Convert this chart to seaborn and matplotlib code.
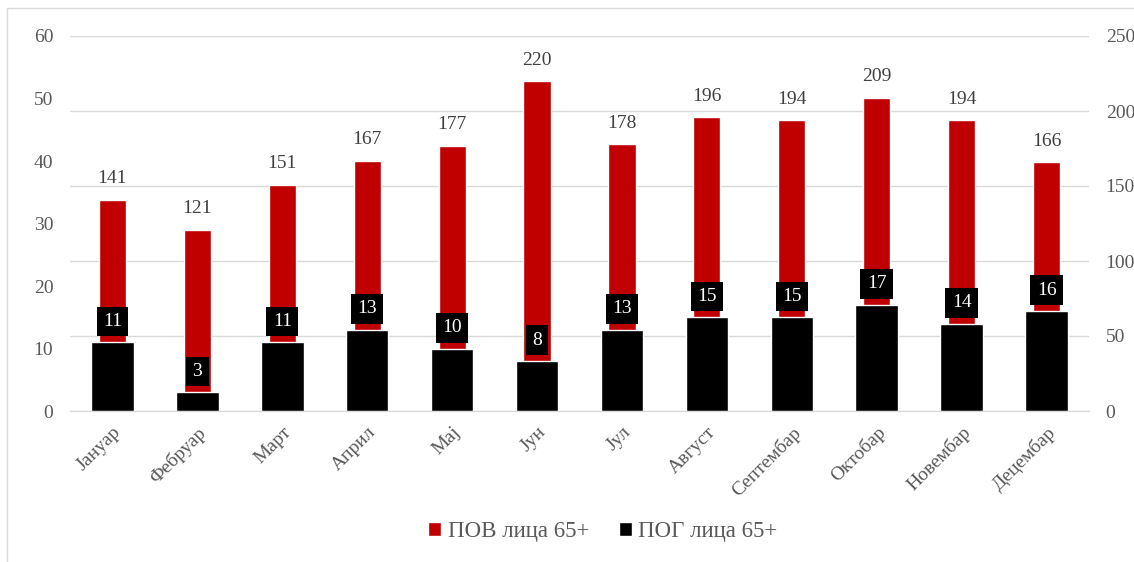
import pandas as pd
import matplotlib.pyplot as plt
import seaborn as sns
from matplotlib.lines import Line2D
from matplotlib.patches import Patch

# Подаци
meseci = ['Јануар', 'Фебруар', 'Март', 'Април', 'Мај', 'Јун',
          'Јул', 'Август', 'Септембар', 'Октобар', 'Новембар', 'Децембар']
pov = [141, 121, 151, 167, 177, 220, 178, 196, 194, 209, 194, 166]
pog = [11, 3, 11, 13, 10, 8, 13, 15, 15, 17, 14, 16]

df = pd.DataFrame({'mesec': meseci, 'pov': pov, 'pog': pog})

sns.set_style('white')
plt.rcParams['font.family'] = ['Liberation Serif', 'DejaVu Serif']

siva = '#595959'
crvena = '#C00000'

fig = plt.figure(figsize=(11.34, 5.62), dpi=100)
ax = fig.add_axes([70/1134, 1 - 411/562, 1019/1134, 375/562])

# ПОВ - десна оса
sns.barplot(data=df, x='mesec', y='pov', color=crvena, width=0.32,
            saturation=1, ax=ax)
ax.set_ylim(0, 250)
ax.set_yticks(range(0, 251, 50))
ax.grid(axis='y', color='#d9d9d9', lw=1)
ax.set_axisbelow(True)

ax2 = ax.twinx()
# ПОГ - лева оса
sns.barplot(data=df, x='mesec', y='pog', color='black', width=0.5,
            saturation=1, ax=ax2)
ax2.set_ylim(0, 60)
ax2.set_yticks(range(0, 61, 10))
ax2.yaxis.tick_left()
ax.yaxis.tick_right()
ax2.grid(False)

for a in (ax, ax2):
    a.set_xlabel('')
    a.set_ylabel('')
    for s in ['top', 'left', 'right']:
        a.spines[s].set_visible(False)
    a.spines['bottom'].set_color('#d9d9d9')
    a.tick_params(axis='y', length=0, pad=12, labelsize=14, labelcolor=siva)

ax.set_xlim(-0.5, 11.5)
ax.set_xticks(range(len(meseci)))
ax.set_xticklabels(meseci, rotation=45, ha='right', va='top',
                   rotation_mode='anchor')
ax.tick_params(axis='x', which='major', length=0, pad=9, labelsize=14,
               labelcolor=siva)
ax.set_xticks([i + 0.5 for i in range(-1, len(meseci))], minor=True)
ax.tick_params(axis='x', which='minor', length=5, color='#d9d9d9', width=1)

# ознаке
for i, v in enumerate(pov):
    ax.annotate(str(v), (i, v), xytext=(0, 15), textcoords='offset points',
                ha='center', va='center', fontsize=14, color='#404040')
for i, v in enumerate(pog):
    ax2.annotate(str(v), (i, v), xytext=(0, 15), textcoords='offset points',
                 ha='center', va='center', fontsize=14, color='white',
                 bbox=dict(boxstyle='square,pad=0.33', fc='black', ec='none'))

handles = [Patch(facecolor=crvena, label='ПОВ лица 65+'),
           Patch(facecolor='black', label='ПОГ лица 65+')]
leg = fig.legend(handles=handles, loc='center', ncol=2, frameon=False,
                 bbox_to_anchor=(603/1134, 1 - 532/562), fontsize=16.5,
                 handlelength=0.55, handleheight=0.55, handletextpad=0.3,
                 columnspacing=1.3)
for t in leg.get_texts():
    t.set_color(siva)

# оквир
fig.add_artist(Line2D([7/1134, 7/1134], [0, 1 - 8/562], color='#d9d9d9',
                      lw=1, transform=fig.transFigure))
fig.add_artist(Line2D([7/1134, 1], [1 - 8/562, 1 - 8/562], color='#d9d9d9',
                      lw=1, transform=fig.transFigure))

fig.savefig('out.png', dpi=100)
